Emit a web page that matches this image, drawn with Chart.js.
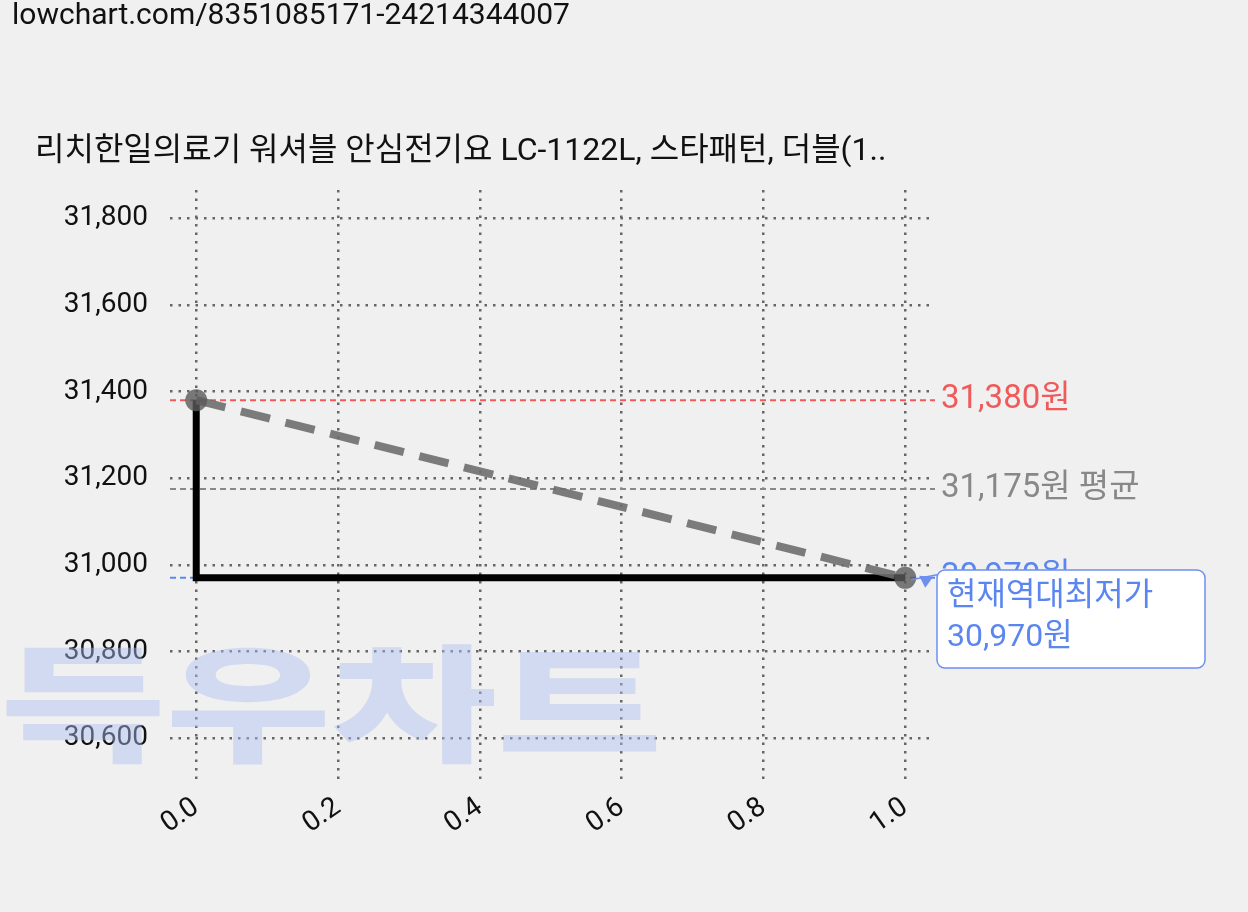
<!DOCTYPE html>
<html>
<head>
<meta charset="utf-8">
<script src="https://cdn.jsdelivr.net/npm/chart.js@4/dist/chart.umd.min.js"></script>
<style>
  body { margin: 0; background: #f0f0f0; }
  #wrap { width: 1248px; height: 912px; position: relative; }
</style>
</head>
<body>
<div id="wrap"><canvas id="c" width="1248" height="912"></canvas></div>
<script>
// chart values
const xValues = [0, 1];
const prices = [31380, 30970];
const maxPrice = 31380;
const avgPrice = 31175;
const minPrice = 30970;
const xTicks = [0, 0.2, 0.4, 0.6, 0.8, 1.0];
const yTicks = [30600, 30800, 31000, 31200, 31400, 31600, 31800];

const FONT = "Roboto, 'Noto Sans CJK KR', sans-serif";
const fmt = v => v.toLocaleString('en-US');

// step line: vertical drop at x=0, then flat at current price
const stepPoints = [
    { x: xValues[0], y: prices[0] },
    { x: xValues[0], y: prices[1] },
    { x: xValues[1], y: prices[1] }
];

const overlay = {
    id: 'overlay',
    beforeDatasetsDraw(chart) {
        const ctx = chart.ctx;
        const { left, right } = chart.chartArea;
        const y = chart.scales.y;
        // watermark
        ctx.save();
        ctx.font = `900 150px 'Noto Sans CJK KR', sans-serif`;
        ctx.fillStyle = 'rgba(170,190,240,0.45)';
        ctx.translate(0, 752);
        ctx.scale(1.2, 0.85);
        ctx.fillText('득우차트', 0, 0);
        ctx.restore();
        // reference lines
        const lines = [[maxPrice, '#f05a5a'], [avgPrice, '#888888'], [minPrice, '#5b86f0']];
        lines.forEach(([v, col]) => {
            const py = y.getPixelForValue(v);
            ctx.save();
            ctx.strokeStyle = col;
            ctx.lineWidth = 2;
            ctx.setLineDash([6, 4]);
            ctx.beginPath();
            ctx.moveTo(left, py);
            ctx.lineTo(right, py);
            ctx.stroke();
            ctx.restore();
        });
    },
    afterDraw(chart) {
        const ctx = chart.ctx;
        const { right } = chart.chartArea;
        const y = chart.scales.y;
        const x = chart.scales.x;
        ctx.save();
        ctx.textBaseline = 'middle';
        ctx.font = `30px ${FONT}`;
        ctx.fillStyle = '#111';
        ctx.fillText('lowchart.com/8351085171-24214344007', 12, 16);
        ctx.font = `32px ${FONT}`;
        ctx.fillText('리치한일의료기 워셔블 안심전기요 LC-1122L, 스타패턴, 더블(1..', 35, 152);
        ctx.font = `33px ${FONT}`;
        ctx.fillStyle = '#f05a5a';
        ctx.fillText(fmt(maxPrice) + '원', right + 6, y.getPixelForValue(maxPrice));
        ctx.fillStyle = '#888888';
        ctx.fillText(fmt(avgPrice) + '원 평균', right + 6, y.getPixelForValue(avgPrice));
        ctx.fillStyle = '#5b86f0';
        ctx.fillText(fmt(minPrice) + '원', right + 6, y.getPixelForValue(minPrice));
        // annotation box
        const px = x.getPixelForValue(xValues[1]);
        const py = y.getPixelForValue(prices[1]);
        const bx = 937, by = 570, bw = 268, bh = 98;
        ctx.strokeStyle = '#6f8fef';
        ctx.lineWidth = 1.5;
        ctx.beginPath();
        ctx.moveTo(bx + 4, by + 4);
        ctx.lineTo(px + 6, py + 2);
        ctx.stroke();
        ctx.fillStyle = '#6f8fef';
        ctx.beginPath();
        ctx.moveTo(px + 14, py - 2);
        ctx.lineTo(px + 28, py - 1);
        ctx.lineTo(px + 20, py + 10);
        ctx.closePath();
        ctx.fill();
        ctx.fillStyle = '#fff';
        ctx.beginPath();
        ctx.roundRect(bx, by, bw, bh, 8);
        ctx.fill();
        ctx.stroke();
        ctx.fillStyle = '#5b86f0';
        ctx.font = `32px ${FONT}`;
        ctx.fillText('현재역대최저가', bx + 10, by + 27);
        ctx.fillText(fmt(minPrice) + '원', bx + 10, by + 68);
        ctx.restore();
    }
};

new Chart(document.getElementById('c'), {
    type: 'scatter',
    data: {
        datasets: [
            {
                data: xValues.map((v, i) => ({ x: v, y: prices[i] })),
                showLine: true,
                borderColor: 'rgba(110,110,110,0.9)',
                borderWidth: 8,
                borderDash: [30, 16],
                pointRadius: 11,
                pointBackgroundColor: 'rgba(90,90,90,0.8)',
                pointBorderWidth: 0,
                order: 1
            },
            {
                data: stepPoints,
                showLine: true,
                borderColor: '#000',
                borderWidth: 7,
                pointRadius: 0,
                order: 2
            }
        ]
    },
    options: {
        responsive: false,
        animation: false,
        layout: { padding: { top: 190, right: 313, left: 0, bottom: 0 } },
        plugins: { legend: { display: false }, tooltip: { enabled: false } },
        scales: {
            x: {
                type: 'linear',
                min: -0.037,
                max: 1.042,
                afterBuildTicks: s => { s.ticks = xTicks.map(v => ({ value: v })); },
                afterFit: s => { s.height = 127; },
                ticks: {
                    color: '#111',
                    font: { family: FONT, size: 28 },
                    maxRotation: 35, minRotation: 35,
                    padding: 6,
                    callback: v => v.toFixed(1)
                },
                grid: { color: '#666', lineWidth: 2.5, drawTicks: false },
                border: { display: false, dash: [2.5, 6] }
            },
            y: {
                min: 30492,
                max: 31865,
                afterBuildTicks: s => { s.ticks = yTicks.map(v => ({ value: v })); },
                afterFit: s => { s.width = 170; },
                ticks: {
                    color: '#111',
                    font: { family: FONT, size: 28 },
                    padding: 22,
                    callback: v => fmt(v)
                },
                grid: { color: '#666', lineWidth: 2.5, drawTicks: false },
                border: { display: false, dash: [2.5, 6] }
            }
        }
    },
    plugins: [overlay]
});
</script>
</body>
</html>
